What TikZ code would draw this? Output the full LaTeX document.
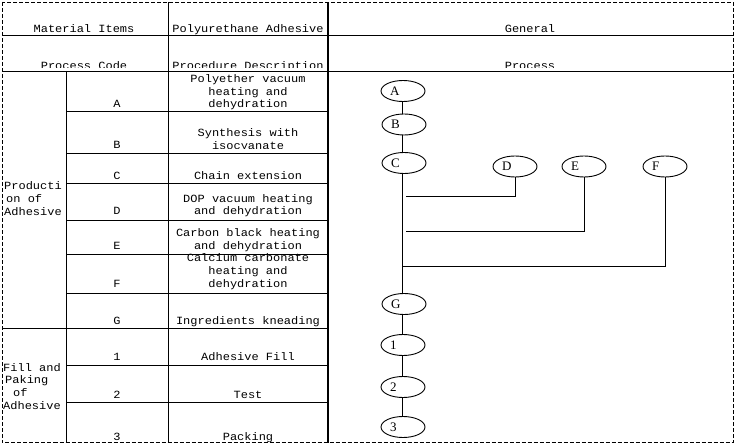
\documentclass[tikz,border=0pt]{standalone}
\usepackage{fontspec}
\setmainfont{Liberation Serif}
\newfontfamily\tabfont[FakeStretch=1.09]{Liberation Mono}
\usetikzlibrary{shapes.geometric}
\newcommand{\plab}[1]{\makebox[26pt][l]{\raisebox{-1pt}{#1}}}
\begin{document}
\begin{tikzpicture}[x=1pt,y=-1pt,
  grid/.style={line width=0.9pt},
  thickrule/.style={line width=1.8pt},
  frame/.style={line width=0.8pt, dash pattern=on 4pt off 2pt},
  cell/.style={font=\tabfont\fontsize{11}{11}\selectfont, anchor=base, inner sep=0pt},
  lcell/.style={cell, anchor=base west},
  proc/.style={ellipse, draw, line width=0.9pt, minimum width=44pt, minimum height=21pt, inner sep=0pt, font=\fontsize{13}{13}\selectfont},
  link/.style={line width=1pt}
]
\useasboundingbox (0,0) rectangle (738,446);
% frame and rules
\draw[frame] (2,2) rectangle (733,442.5);
\draw[grid] (2,35) -- (733,35);
\draw[grid] (2,71) -- (733,71);
\foreach \y in {111,153,183,220,254,293,365,402} \draw[grid] (66,\y) -- (328,\y);
\draw[grid] (2,328) -- (328,328);
\draw[grid] (66,71) -- (66,442.5);
\draw[grid] (168,2) -- (168,442.5);
\draw[thickrule] (328,2) -- (328,442.5);
% header
\node[cell] (h1) at (84,32.5) {Material Items};
\node[cell] (h2) at (248,32.5) {Polyurethane Adhesive};
\node[cell] (h3) at (530,32.5) {General};
\begin{scope}
\clip (2,36) rectangle (733,67.8);
\node[cell] (h4) at (84,70) {Process Code};
\node[cell] (h5) at (248,70) {Procedure Description};
\node[cell] (h6) at (530,70) {Process};
\end{scope}
% left group labels
\node[lcell] (g1a) at (4,190) {Producti};
\node[lcell] (g1b) at (6,202.5) {on of};
\node[lcell] (g1c) at (4,215.5) {Adhesive};
\node[lcell] (g2a) at (3,371) {Fill and};
\node[lcell] (g2b) at (5,383) {Paking};
\node[lcell] (g2c) at (13,396) {of};
\node[lcell] (g2d) at (3,409) {Adhesive};
% row A
\node[cell] (cA) at (117,108) {A};
\node[cell] (dA1) at (248,83) {Polyether vacuum};
\node[cell] (dA2) at (248,95.5) {heating and};
\node[cell] (dA3) at (248,108) {dehydration};
% row B
\node[cell] (dB1) at (248,136.5) {Synthesis with};
\begin{scope}
\clip (66,112) rectangle (328,148.4);
\node[cell] (cB) at (117,149) {B};
\node[cell] (dB2) at (248,150) {isocyanate};
\end{scope}
% row C
\node[cell] (cC) at (117,179.5) {C};
\node[cell] (dC1) at (248,179.5) {Chain extension};
% row D
\node[cell] (cD) at (117,214.5) {D};
\node[cell] (dD1) at (248,202.5) {DOP vacuum heating};
\node[cell] (dD2) at (248,214.5) {and dehydration};
% row E
\node[cell] (cE) at (117,249) {E};
\node[cell] (dE1) at (248,236.5) {Carbon black heating};
\node[cell] (dE2) at (248,249) {and dehydration};
% row F
\node[cell] (cF) at (117,287.5) {F};
\node[cell] (dF1) at (248,261.5) {Calcium carbonate};
\node[cell] (dF2) at (248,274.5) {heating and};
\node[cell] (dF3) at (248,287.5) {dehydration};
% row G
\node[cell] (cG) at (117,324.5) {G};
\node[cell] (dG1) at (248,324.5) {Ingredients kneading};
% rows 1-3
\node[cell] (c1) at (117,360.5) {1};
\node[cell] (d11) at (248,360.5) {Adhesive Fill};
\node[cell] (c2) at (117,398.5) {2};
\node[cell] (d21) at (248,398.5) {Test};
\begin{scope}
\clip (66,403) rectangle (328,441.5);
\node[cell] (c3) at (117,440) {3};
\node[cell] (d31) at (248,440) {Packing};
\end{scope}
% process flow
\node[proc] (A) at (403,91) {\plab{A}};
\node[proc] (B) at (404,124.5) {\plab{B}};
\node[proc] (C) at (404,163) {\plab{C}};
\node[proc] (D) at (515,166.5) {\plab{D}};
\node[proc] (E) at (584,166.5) {\plab{E}};
\node[proc] (F) at (665,166.5) {\plab{F}};
\node[proc] (G) at (404,304) {\plab{G}};
\node[proc] (P1) at (403,345) {\plab{1}};
\node[proc] (P2) at (403,387) {\plab{2}};
\node[proc] (P3) at (403,427) {\plab{3}};
\coordinate (jD) at (406,197);
\coordinate (jE) at (406,232);
\coordinate (jF) at (402,266);
\draw[link] (A.south -| 402,0) -- (B.north -| 402,0);
\draw[link] (B.south -| 402,0) -- (C.north -| 402,0);
\draw[link] (C.south -| 402,0) -- (G.north -| 402,0);
\draw[link] (G.south -| 402,0) -- (P1.north -| 402,0);
\draw[link] (P1.south -| 402,0) -- (P2.north -| 402,0);
\draw[link] (P2.south -| 402,0) -- (P3.north -| 402,0);
\draw[link] (D.south) |- (jD);
\draw[link] (E.south) |- (jE);
\draw[link] (F.south) |- (jF);
\end{tikzpicture}
\end{document}
